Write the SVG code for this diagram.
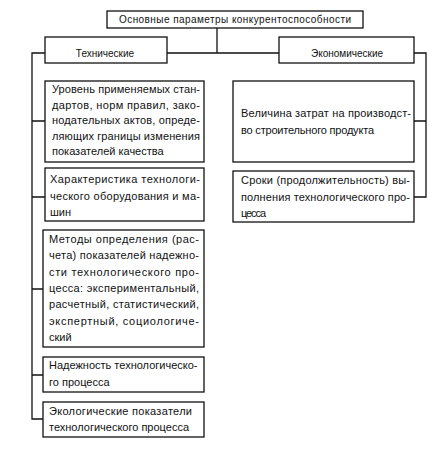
<svg xmlns="http://www.w3.org/2000/svg" width="438" height="451" viewBox="0 0 438 451">
<style>
rect{fill:#fff;stroke:#111;stroke-width:1.3}
text{font-family:"Liberation Sans",Arial,sans-serif;font-size:11px;fill:#111}
.h{font-size:10px;text-anchor:middle}
#connectors path{fill:none;stroke:#111;stroke-width:1.3}
</style>
<rect x="0" y="0" width="438" height="451" style="stroke:none"/>
<g id="connectors">
<path d="M217 28V53M167 53H279"/>
<path d="M45 53H32V419H45M32 121H45M32 197H45M32 289H45M32 375H45"/>
<path d="M414 53H426V197H414M414 121H426"/>
</g>
<g id="root"><rect x="107" y="11" width="256" height="17"/><text class="h" x="235" y="23" textLength="232" lengthAdjust="spacing">Основные параметры конкурентоспособности</text></g>
<g id="tech"><rect x="45" y="37" width="122" height="26"/><text class="h" x="105" y="57">Технические</text></g>
<g id="econ"><rect x="279" y="37" width="135" height="26"/><text class="h" x="347" y="57">Экономические</text></g>
<g id="t1"><rect x="45" y="81" width="159" height="81"/>
<text x="52" y="93" textLength="148" lengthAdjust="spacing">Уровень применяемых стан-</text>
<text x="52" y="108.5" textLength="148" lengthAdjust="spacing">дартов, норм правил, зако-</text>
<text x="52" y="124" textLength="148" lengthAdjust="spacing">нодательных актов, опреде-</text>
<text x="52" y="139.5" textLength="148" lengthAdjust="spacing">ляющих границы изменения</text>
<text x="52" y="155">показателей качества</text></g>
<g id="t2"><rect x="45" y="168" width="159" height="53"/>
<text x="50" y="183" textLength="150" lengthAdjust="spacing">Характеристика технологи-</text>
<text x="50" y="200" textLength="150" lengthAdjust="spacing">ческого оборудования и ма-</text>
<text x="50" y="216">шин</text></g>
<g id="t3"><rect x="43" y="230" width="161" height="117"/>
<text x="49" y="243" textLength="150" lengthAdjust="spacing">Методы определения (рас-</text>
<text x="49" y="259" textLength="150" lengthAdjust="spacing">чета) показателей надежно-</text>
<text x="49" y="275.5" textLength="150" lengthAdjust="spacing">сти технологического про-</text>
<text x="49" y="292" textLength="150" lengthAdjust="spacing">цесса: экспериментальный,</text>
<text x="49" y="308" textLength="150" lengthAdjust="spacing">расчетный, статистический,</text>
<text x="49" y="324.5" textLength="150" lengthAdjust="spacing">экспертный, социологиче-</text>
<text x="49" y="341">ский</text></g>
<g id="t4"><rect x="43" y="357" width="161" height="35"/>
<text x="49" y="369">Надежность технологическо-</text>
<text x="49" y="386">го процесса</text></g>
<g id="t5"><rect x="43" y="402" width="161" height="35"/>
<text x="49" y="415" textLength="143" lengthAdjust="spacing">Экологические показатели</text>
<text x="49" y="431">технологического процесса</text></g>
<g id="e1"><rect x="233" y="81" width="181" height="81"/>
<text x="241" y="117" textLength="170" lengthAdjust="spacing">Величина затрат на производст-</text>
<text x="241" y="134" textLength="133" lengthAdjust="spacing">во строительного продукта</text></g>
<g id="e2"><rect x="233" y="171" width="181" height="51"/>
<text x="241" y="184" textLength="169" lengthAdjust="spacing">Сроки (продолжительность) вы-</text>
<text x="241" y="201" textLength="169" lengthAdjust="spacing">полнения технологического про-</text>
<text x="241" y="217" textLength="25" lengthAdjust="spacing">цесса</text></g>
</svg>
